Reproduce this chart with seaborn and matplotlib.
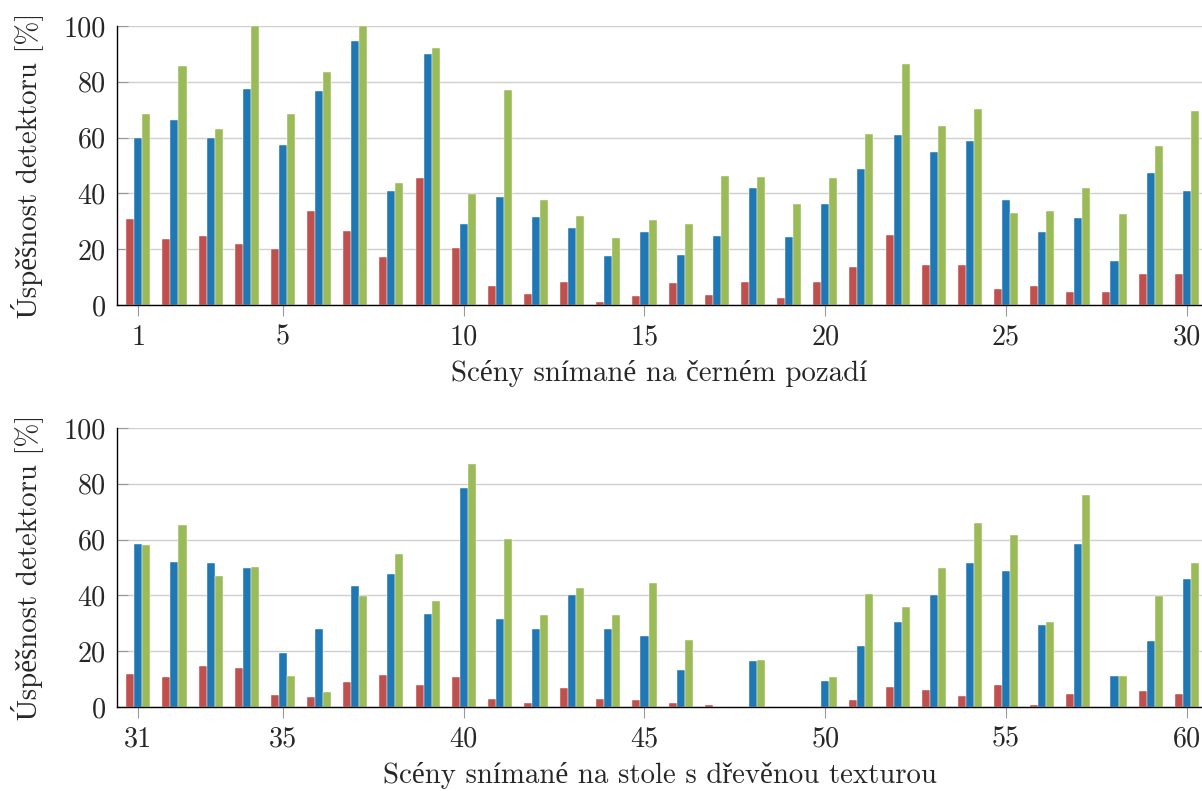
import matplotlib
matplotlib.use("Agg")
import matplotlib.pyplot as plt
import seaborn as sns
import pandas as pd

# ---------------- data ----------------
scenes_black = [1, 2, 3, 4, 5, 6, 7, 8, 9, 10, 11, 12, 13, 14, 15,
                16, 17, 18, 19, 20, 21, 22, 23, 24, 25, 26, 27, 28, 29, 30]
red_black = [30.9, 23.5, 24.6, 21.9, 20.0, 33.6, 26.6, 17.2, 45.4, 20.4,
             6.7, 3.8, 8.1, 1.0, 3.2, 7.8, 3.5, 8.1, 2.5, 8.1,
             13.7, 25.0, 14.2, 14.2, 5.7, 6.8, 4.8, 4.5, 11.1, 11.0]
blue_black = [60.0, 66.4, 60.0, 77.5, 57.2, 76.7, 94.7, 40.8, 90.1, 28.9,
              38.8, 31.7, 27.7, 17.4, 26.3, 18.0, 24.6, 41.8, 24.4, 36.1,
              48.6, 60.8, 55.0, 58.7, 37.8, 26.3, 31.2, 15.9, 47.2, 40.7]
green_black = [68.6, 85.8, 63.2, 100.0, 68.6, 83.5, 100.0, 43.6, 92.2, 39.9,
               76.9, 37.5, 31.8, 24.1, 30.5, 28.9, 46.2, 45.9, 36.1, 45.6,
               61.2, 86.4, 64.0, 70.3, 32.9, 33.7, 42.1, 32.5, 56.9, 69.5]

scenes_wood = [31, 32, 33, 34, 35, 36, 37, 38, 39, 40, 41, 42, 43, 44, 45,
               46, 47, 48, 49, 50, 51, 52, 53, 54, 55, 56, 57, 58, 59, 60]
red_wood = [11.8, 10.8, 14.6, 14.0, 4.3, 3.6, 8.9, 11.5, 8.0, 10.6,
            3.0, 1.4, 6.8, 3.0, 2.5, 1.3, 0.7, 0.0, 0.0, 0.0,
            2.6, 7.1, 6.0, 3.8, 7.9, 0.6, 4.5, 0.0, 5.6, 4.5]
blue_wood = [58.4, 52.0, 51.6, 49.8, 19.3, 27.9, 43.4, 47.6, 33.3, 78.6,
             31.5, 27.8, 40.1, 27.8, 25.4, 13.2, 0.0, 16.6, 0.0, 9.3,
             21.8, 30.4, 40.0, 51.6, 48.6, 29.5, 58.3, 11.0, 23.7, 45.9]
green_wood = [58.1, 65.2, 46.9, 50.2, 11.0, 5.4, 39.8, 54.7, 37.9, 87.2,
              60.2, 33.1, 42.8, 33.1, 44.3, 23.9, 0.0, 16.7, 0.0, 10.9,
              40.4, 35.9, 49.9, 66.1, 61.6, 30.4, 76.0, 11.0, 39.8, 51.6]

series_names = ["detektor A", "detektor B", "detektor C"]
series_colors = ["#c0504d", "#1f77b4", "#9bbb59"]

ticks_black = [1, 5, 10, 15, 20, 25, 30]
ticks_wood = [31, 35, 40, 45, 50, 55, 60]
yticks = [0, 20, 40, 60, 80, 100]

ylabel = "Úspěšnost detektoru [%]"
xlabel_black = "Scény snímané na černém pozadí"
xlabel_wood = "Scény snímané na stole s dřevěnou texturou"

# ---------------- style ----------------
sns.set_theme(style="white")
plt.rcParams["font.family"] = ["cmr10", "Liberation Serif", "DejaVu Serif"]
plt.rcParams["axes.formatter.use_mathtext"] = True
plt.rcParams["mathtext.fontset"] = "cm"
FS_TICK = 20.3
FS_LAB = 20.8

fig = plt.figure(figsize=(12.02, 7.91), dpi=100)
W, H = 1202.0, 791.0
left = 117 / W
width = 1.0 - left
ax_top = fig.add_axes([left, 1 - 305 / H, width, (305 - 26) / H])
ax_bot = fig.add_axes([left, 1 - 707 / H, width, (707 - 428) / H])


def make_df(scenes, r, b, g):
    rows = []
    for vals, name in zip((r, b, g), series_names):
        for s, v in zip(scenes, vals):
            rows.append({"scene": s, "value": v, "series": name})
    return pd.DataFrame(rows)


panels = [
    (ax_top, scenes_black, red_black, blue_black, green_black, ticks_black, xlabel_black),
    (ax_bot, scenes_wood, red_wood, blue_wood, green_wood, ticks_wood, xlabel_wood),
]

for ax, scenes, r, b, g, xt, xl in panels:
    df = make_df(scenes, r, b, g)
    sns.barplot(data=df, x="scene", y="value", hue="series",
                hue_order=series_names, palette=series_colors,
                native_scale=True, width=0.666, errorbar=None,
                saturation=1, edgecolor="white", linewidth=0.3,
                legend=False, ax=ax)
    ax.set_xlim(scenes[0] - 0.59, scenes[0] + 29.42)
    ax.set_ylim(0, 100)
    ax.set_yticks(yticks)
    ax.set_yticklabels([str(v) for v in yticks], fontsize=FS_TICK)
    ax.set_xticks(xt)
    ax.set_xticklabels([str(v) for v in xt], fontsize=FS_TICK)
    ax.grid(axis="y", color="#cfcfcf", linewidth=1.0)
    ax.grid(axis="x", visible=False)
    ax.set_axisbelow(True)
    for side in ("top", "right"):
        ax.spines[side].set_visible(False)
    for side in ("left", "bottom"):
        ax.spines[side].set_color("black")
        ax.spines[side].set_linewidth(1.0)
    ax.tick_params(axis="y", direction="in", length=8, width=0.8,
                   color="#999999", pad=8, left=True)
    ax.tick_params(axis="x", direction="out", length=8, width=0.8,
                   color="#999999", pad=6, bottom=True)
    ax.set_xlabel(xl, fontsize=FS_LAB, labelpad=7)
    ax.set_ylabel(ylabel, fontsize=FS_LAB)
    ax.yaxis.set_label_coords(-0.068, 0.5)

fig.savefig("out.png", dpi=100)
